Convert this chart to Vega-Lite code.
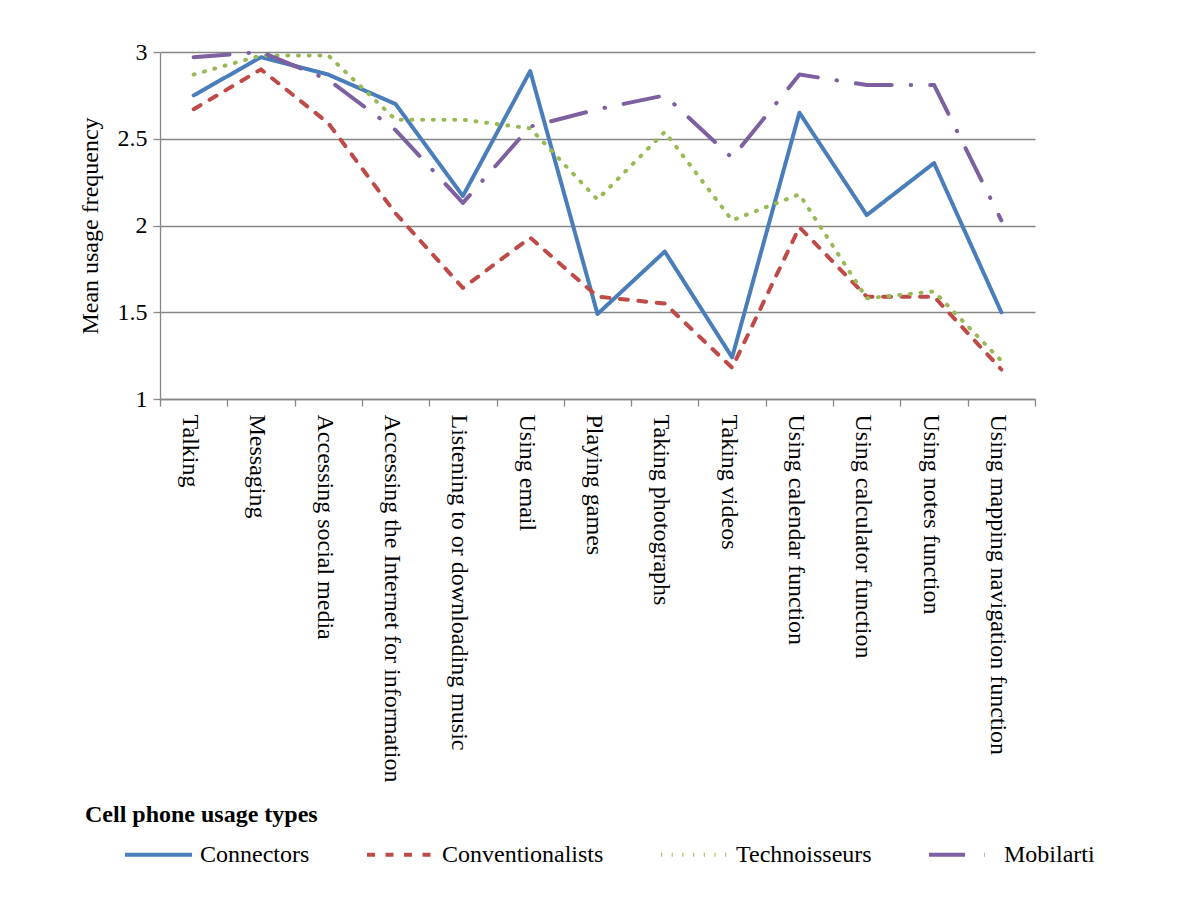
{
  "$schema": "https://vega.github.io/schema/vega-lite/v6.json",
  "autosize": {"type": "none"},
  "padding": {"left": 160, "top": 52, "right": 153, "bottom": 501},
  "width": 875,
  "height": 347,
  "background": "white",
  "config": {
    "font": "Liberation Serif",
    "view": {"stroke": null},
    "axis": {"labelFont": "Liberation Serif", "titleFont": "Liberation Serif"},
    "legend": {"labelFont": "Liberation Serif", "titleFont": "Liberation Serif"}
  },
  "data": {
    "values": [
      {"usage": "Talking", "type": "Connectors", "value": 2.75},
      {"usage": "Messaging", "type": "Connectors", "value": 2.97},
      {"usage": "Accessing social media", "type": "Connectors", "value": 2.87},
      {"usage": "Accessing the Internet for information", "type": "Connectors", "value": 2.70},
      {"usage": "Listening to or downloading music", "type": "Connectors", "value": 2.17},
      {"usage": "Using email", "type": "Connectors", "value": 2.89},
      {"usage": "Playing games", "type": "Connectors", "value": 1.49},
      {"usage": "Taking photographs", "type": "Connectors", "value": 1.85},
      {"usage": "Taking videos", "type": "Connectors", "value": 1.24},
      {"usage": "Using calendar function", "type": "Connectors", "value": 2.65},
      {"usage": "Using calculator function", "type": "Connectors", "value": 2.06},
      {"usage": "Using notes function", "type": "Connectors", "value": 2.36},
      {"usage": "Using mapping navigation function", "type": "Connectors", "value": 1.50},

      {"usage": "Talking", "type": "Conventionalists", "value": 2.67},
      {"usage": "Messaging", "type": "Conventionalists", "value": 2.90},
      {"usage": "Accessing social media", "type": "Conventionalists", "value": 2.59},
      {"usage": "Accessing the Internet for information", "type": "Conventionalists", "value": 2.07},
      {"usage": "Listening to or downloading music", "type": "Conventionalists", "value": 1.64},
      {"usage": "Using email", "type": "Conventionalists", "value": 1.93},
      {"usage": "Playing games", "type": "Conventionalists", "value": 1.59},
      {"usage": "Taking photographs", "type": "Conventionalists", "value": 1.55},
      {"usage": "Taking videos", "type": "Conventionalists", "value": 1.18},
      {"usage": "Using calendar function", "type": "Conventionalists", "value": 1.99},
      {"usage": "Using calculator function", "type": "Conventionalists", "value": 1.59},
      {"usage": "Using notes function", "type": "Conventionalists", "value": 1.59},
      {"usage": "Using mapping navigation function", "type": "Conventionalists", "value": 1.17},

      {"usage": "Talking", "type": "Technoisseurs", "value": 2.87},
      {"usage": "Messaging", "type": "Technoisseurs", "value": 2.98},
      {"usage": "Accessing social media", "type": "Technoisseurs", "value": 2.98},
      {"usage": "Accessing the Internet for information", "type": "Technoisseurs", "value": 2.61},
      {"usage": "Listening to or downloading music", "type": "Technoisseurs", "value": 2.61},
      {"usage": "Using email", "type": "Technoisseurs", "value": 2.56},
      {"usage": "Playing games", "type": "Technoisseurs", "value": 2.15},
      {"usage": "Taking photographs", "type": "Technoisseurs", "value": 2.54},
      {"usage": "Taking videos", "type": "Technoisseurs", "value": 2.03},
      {"usage": "Using calendar function", "type": "Technoisseurs", "value": 2.18},
      {"usage": "Using calculator function", "type": "Technoisseurs", "value": 1.58},
      {"usage": "Using notes function", "type": "Technoisseurs", "value": 1.62},
      {"usage": "Using mapping navigation function", "type": "Technoisseurs", "value": 1.22},

      {"usage": "Talking", "type": "Mobilarti", "value": 2.97},
      {"usage": "Messaging", "type": "Mobilarti", "value": 3.00},
      {"usage": "Accessing social media", "type": "Mobilarti", "value": 2.84},
      {"usage": "Accessing the Internet for information", "type": "Mobilarti", "value": 2.55},
      {"usage": "Listening to or downloading music", "type": "Mobilarti", "value": 2.13},
      {"usage": "Using email", "type": "Mobilarti", "value": 2.57},
      {"usage": "Playing games", "type": "Mobilarti", "value": 2.67},
      {"usage": "Taking photographs", "type": "Mobilarti", "value": 2.75},
      {"usage": "Taking videos", "type": "Mobilarti", "value": 2.39},
      {"usage": "Using calendar function", "type": "Mobilarti", "value": 2.87},
      {"usage": "Using calculator function", "type": "Mobilarti", "value": 2.81},
      {"usage": "Using notes function", "type": "Mobilarti", "value": 2.81},
      {"usage": "Using mapping navigation function", "type": "Mobilarti", "value": 2.03}
    ]
  },
  "mark": {"type": "line", "strokeWidth": 4, "strokeCap": "round", "strokeJoin": "round"},
  "encoding": {
    "x": {
      "field": "usage",
      "type": "nominal",
      "sort": null,
      "bandPosition": 0.5,
      "scale": {"type": "band", "paddingInner": 0, "paddingOuter": 0},
      "axis": {
        "title": null,
        "grid": false,
        "labelAngle": 90,
        "labelFontSize": 24,
        "labelColor": "black",
        "labelLimit": 0,
        "labelPadding": 8,
        "labelOffset": -4,
        "tickBand": "extent",
        "tickSize": 7,
        "tickColor": "#868686",
        "tickWidth": 1.3,
        "domainColor": "#868686",
        "domainWidth": 1.3
      }
    },
    "y": {
      "field": "value",
      "type": "quantitative",
      "scale": {"domain": [1, 3], "nice": false, "zero": false},
      "axis": {
        "values": [1, 1.5, 2, 2.5, 3],
        "format": "~g",
        "title": "Mean usage frequency",
        "titleFontSize": 24,
        "titleFontWeight": "normal",
        "titleColor": "black",
        "titlePadding": 15,
        "labelFontSize": 24,
        "labelColor": "black",
        "labelPadding": 6,
        "tickSize": 7,
        "tickColor": "#868686",
        "tickWidth": 1.3,
        "domainColor": "#868686",
        "domainWidth": 1.3,
        "gridColor": "#868686",
        "gridWidth": 1.3
      }
    },
    "color": {
      "field": "type",
      "type": "nominal",
      "scale": {
        "domain": ["Connectors", "Conventionalists", "Technoisseurs", "Mobilarti"],
        "range": ["#4A7EBB", "#BE4B48", "#98B954", "#7D60A0"]
      },
      "legend": {
        "title": "Cell phone usage types",
        "orient": "none",
        "legendX": -75,
        "legendY": 751,
        "direction": "horizontal",
        "columns": 4,
        "padding": 0,
        "titleFont": "Liberation Serif",
        "titleFontSize": 24,
        "titleFontWeight": "bold",
        "titleColor": "black",
        "titleLimit": 600,
        "titlePadding": -8,
        "labelFont": "Liberation Serif",
        "labelFontSize": 24,
        "labelColor": "black",
        "labelLimit": 0,
        "symbolType": "stroke",
        "symbolSize": 4489,
        "symbolStrokeWidth": 4,
        "symbolOffset": 38,
        "labelOffset": 6,
        "columnPadding": 17
      }
    },
    "strokeDash": {
      "field": "type",
      "type": "nominal",
      "scale": {
        "domain": ["Connectors", "Conventionalists", "Technoisseurs", "Mobilarti"],
        "range": [[1, 0], [8, 10.5], [1, 9.7], [36, 19, 0.5, 19]]
      },
      "legend": {
        "title": "Cell phone usage types",
        "orient": "none",
        "legendX": -75,
        "legendY": 751,
        "direction": "horizontal",
        "columns": 4,
        "padding": 0,
        "titleFont": "Liberation Serif",
        "titleFontSize": 24,
        "titleFontWeight": "bold",
        "titleColor": "black",
        "titleLimit": 600,
        "titlePadding": -8,
        "labelFont": "Liberation Serif",
        "labelFontSize": 24,
        "labelColor": "black",
        "labelLimit": 0,
        "symbolType": "stroke",
        "symbolSize": 4489,
        "symbolStrokeWidth": 4,
        "symbolOffset": 38,
        "labelOffset": 6,
        "columnPadding": 17
      }
    }
  }
}
